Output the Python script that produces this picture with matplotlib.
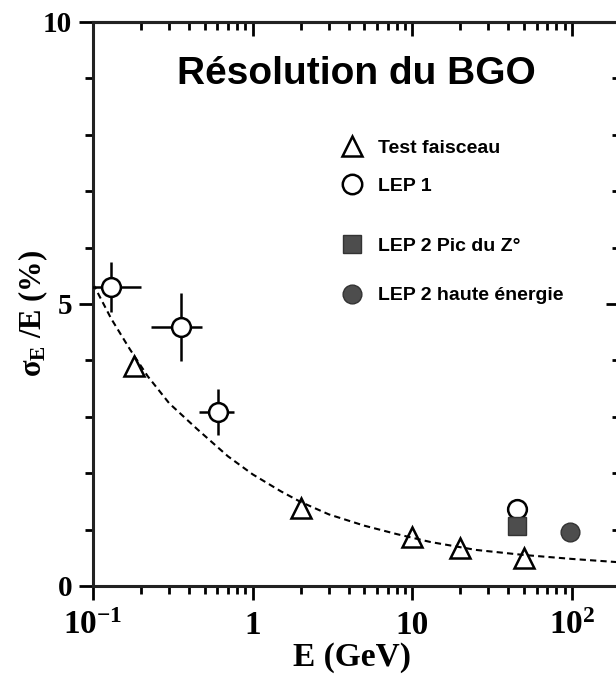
import matplotlib
matplotlib.use('Agg')
from matplotlib import pyplot as plt
from matplotlib.lines import Line2D
from matplotlib.ticker import MultipleLocator, NullFormatter

matplotlib.rcParams.update({
    'font.family': 'serif',
    'font.serif': ['Liberation Serif', 'DejaVu Serif'],
    'font.weight': 'bold',
    'axes.labelweight': 'bold',
    'mathtext.fontset': 'custom',
    'mathtext.rm': 'Liberation Serif:bold',
    'mathtext.it': 'Liberation Serif:bold',
    'mathtext.bf': 'Liberation Serif:bold',
})

# test faisceau (beam test)
test_E = [0.18, 2.0, 10.0, 20.0, 50.0]
test_res = [3.9, 1.39, 0.86, 0.68, 0.50]

# LEP 1, with errors on E and on the resolution
lep1_E = [0.13, 0.355, 0.61, 45.6]
lep1_res = [5.30, 4.59, 3.09, 1.37]
lep1_Eerr = [0.07, 0.125, 0.15, 0.0]
lep1_reserr = [0.45, 0.60, 0.41, 0.0]

# LEP 2 at the Z peak and at high energy
lep2z_E = [45.6]
lep2z_res = [1.06]
lep2h_E = [97.0]
lep2h_res = [0.96]

# resolution curve
fit_E = [0.1, 0.13, 0.17, 0.22, 0.3, 0.45, 0.7, 1.0, 1.5, 2.0, 3.0, 5.0,
         8.0, 13.0, 25.0, 50.0, 100.0, 200.0]
fit_res = [5.36, 4.74, 4.2, 3.72, 3.24, 2.78, 2.3, 1.98, 1.68, 1.49, 1.27,
           1.07, 0.92, 0.78, 0.64, 0.55, 0.48, 0.42]

xticks = [0.1, 1, 10, 100]
xticklabels = [r'$10^{-1}$', '1', '10', r'$10^{2}$']

W, H = 616, 675
GREY = '#4d4d4d'
fig = plt.figure(figsize=(W / 100, H / 100), dpi=100)
ax = fig.add_axes([93 / W, 1 - 586 / H, 527 / W, 564 / H])
ax.set_xscale('log')
ax.set_xlim(0.1, 200)
ax.set_ylim(0, 10)

ax.plot(fit_E, fit_res, ls=(0, (3, 2)), lw=1.5, color='k', zorder=2)
ax.errorbar(lep1_E, lep1_res, xerr=lep1_Eerr, yerr=lep1_reserr, fmt='o',
            ms=13.5, mfc='white', mec='k', mew=1.8, ecolor='k',
            elinewidth=1.8, capsize=0, zorder=3)
ax.plot(test_E, test_res, '^', ms=14, mfc='none', mec='k', mew=1.8,
        ls='none', zorder=4)
ax.plot(lep2z_E, lep2z_res, 's', ms=13, mfc=GREY, mec='#333333', mew=1,
        ls='none', zorder=4)
ax.plot(lep2h_E, lep2h_res, 'o', ms=13.5, mfc=GREY, mec='#333333', mew=1,
        ls='none', zorder=4)

for s in ax.spines.values():
    s.set_linewidth(2.2)
    s.set_color('#222222')

# bottom / left ticks point out
ax.set_xticks(xticks, labels=xticklabels)
ax.xaxis.set_minor_formatter(NullFormatter())
ax.tick_params(axis='x', which='major', direction='out', length=10, width=2,
               pad=24.5, labelsize=24)
ax.tick_params(axis='x', which='minor', direction='out', length=6, width=2)
for lbl in ax.get_xticklabels():
    lbl.set_va('baseline')

ax.set_yticks([0, 5, 10])
ax.yaxis.set_minor_locator(MultipleLocator(1))
ax.tick_params(axis='y', which='major', direction='out', length=10, width=2,
               pad=5, labelsize=21)
ax.tick_params(axis='y', which='minor', direction='out', length=6, width=2)

# mirrored ticks on top / right point in
secx = ax.secondary_xaxis('top')
secx.tick_params(which='major', direction='in', length=10, width=2, labeltop=False)
secx.tick_params(which='minor', direction='in', length=6, width=2)
secx.spines['top'].set_linewidth(2.2)
secy = ax.secondary_yaxis('right')
secy.set_yticks([0, 5, 10])
secy.yaxis.set_minor_locator(MultipleLocator(1))
secy.tick_params(which='major', direction='in', length=10, width=2, labelright=False)
secy.tick_params(which='minor', direction='in', length=6, width=2)

ax.set_xlabel('E (GeV)', fontsize=24, fontweight='bold', va='baseline')
ax.xaxis.set_label_coords((352 - 93) / 527, (586 - 666) / 564)
ax.set_ylabel(r'$\sigma_E$ /E (%)', fontsize=22, fontweight='bold')
ax.yaxis.set_label_coords((50 - 93) / 527, (586 - 313) / 564)

fig.text(356 / W, 1 - 84 / H, 'Résolution du BGO', ha='center', va='baseline',
         family='Liberation Sans', weight='bold', size=28)

# legend keys
h_test = Line2D([], [], marker='^', ls='none', ms=14, mfc='none', mec='k', mew=1.8)
h_lep1 = Line2D([], [], marker='o', ls='none', ms=14, mfc='white', mec='k', mew=1.8)
h_z = Line2D([], [], marker='s', ls='none', ms=13, mfc=GREY, mec='#333333', mew=1)
h_h = Line2D([], [], marker='o', ls='none', ms=13.5, mfc=GREY, mec='#333333', mew=1)

leg_kw = dict(loc='upper left', bbox_transform=fig.transFigure, frameon=False,
              prop=dict(family='Liberation Sans', weight='bold', size=14),
              handlelength=1.0, handletextpad=0.84, borderpad=0,
              borderaxespad=0, numpoints=1)
leg1 = ax.legend([h_test, h_lep1], ['Test faisceau', 'LEP 1'],
                 bbox_to_anchor=(342 / W, 1 - 139 / H), labelspacing=1.08, **leg_kw)
ax.add_artist(leg1)
ax.legend([h_z, h_h], ['LEP 2 Pic du Z°', 'LEP 2 haute énergie'],
          bbox_to_anchor=(342 / W, 1 - 237 / H), labelspacing=1.65, **leg_kw)

fig.savefig('out.png', dpi=100)
